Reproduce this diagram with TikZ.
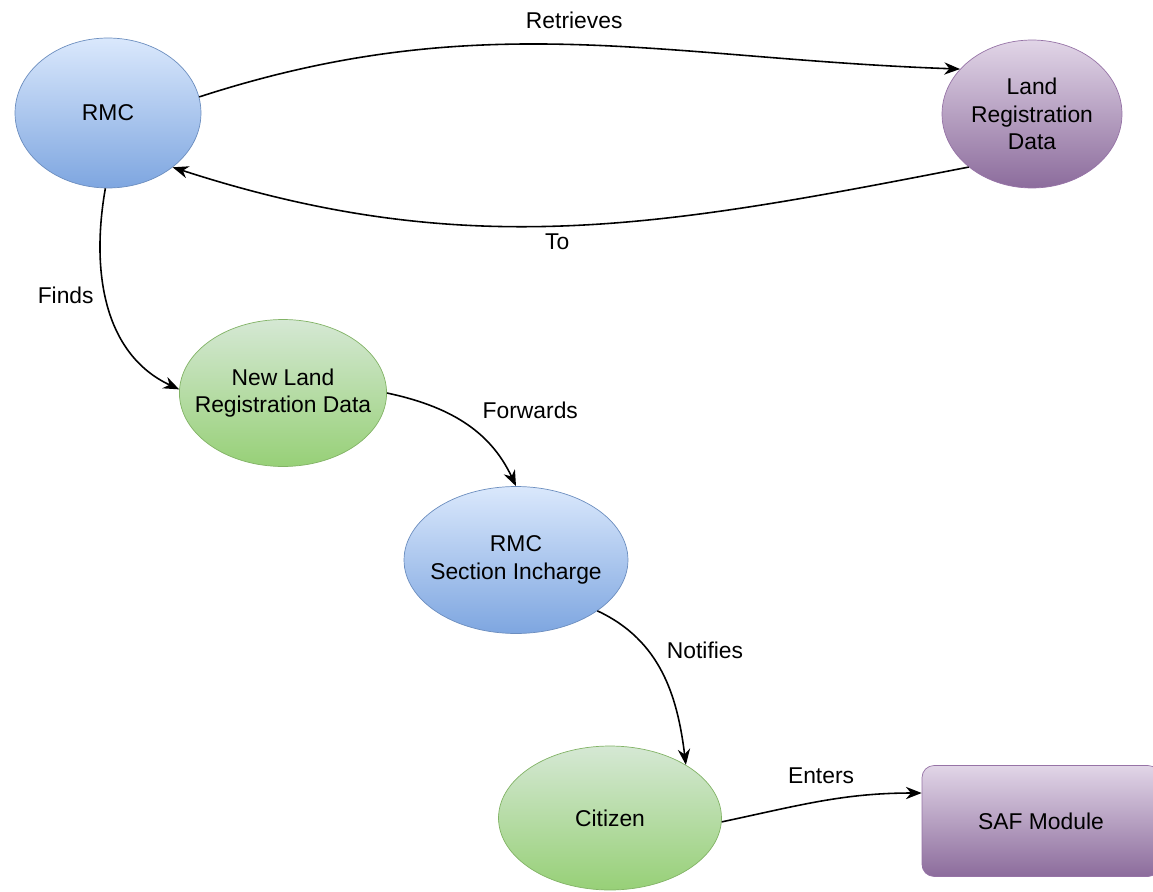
\documentclass[tikz,border=0pt]{standalone}
\usepackage{fontspec}
\setmainfont{Liberation Sans}
\usepackage{xcolor}
\usepackage{tikz}
\usetikzlibrary{shapes,arrows.meta,positioning}

\definecolor{bluetop}{HTML}{DAE8FC}
\definecolor{bluebot}{HTML}{7EA6E0}
\definecolor{blueline}{HTML}{6C8EBF}
\definecolor{greentop}{HTML}{D5E8D4}
\definecolor{greenbot}{HTML}{97D077}
\definecolor{greenline}{HTML}{82B366}
\definecolor{purpletop}{HTML}{E1D5E7}
\definecolor{purplebot}{HTML}{8C6C9C}
\definecolor{purpleline}{HTML}{9673A6}

\begin{document}
\begin{tikzpicture}[x=0.02cm,y=-0.02cm,
		font=\fontsize{13}{15.6}\selectfont,
		blueball/.style={ellipse,draw=blueline,top color=bluetop,bottom color=bluebot,align=center,inner sep=0pt},
		greenball/.style={ellipse,draw=greenline,top color=greentop,bottom color=greenbot,align=center,inner sep=0pt},
		purpleball/.style={ellipse,draw=purpleline,top color=purpletop,bottom color=purplebot,align=center,inner sep=0pt},
		flow/.style={line width=0.9pt,-{Stealth[length=9pt,width=7pt]}}]
		\useasboundingbox (0,0) rectangle (1153,892);

		\node[blueball,minimum width=3.72cm,minimum height=3cm] (RMC) at (108,113) {RMC};
		\node[purpleball,minimum width=3.6cm,minimum height=2.96cm] (LRD) at (1032,114) {Land\\Registration\\Data};
		\node[greenball,inner xsep=-0.3cm,minimum width=4.12cm,minimum height=2.94cm] (NLRD) at (283,393) {New Land\\Registration Data};
		\node[blueball,inner xsep=-0.14cm,minimum width=4.48cm,minimum height=2.94cm] (SI) at (516,560) {RMC\\Section Incharge};
		\node[greenball,minimum width=4.46cm,minimum height=2.88cm] (Cit) at (610,818) {Citizen};
		\node[rectangle,rounded corners=0.24cm,draw=purpleline,top color=purpletop,bottom color=purplebot,minimum width=4.76cm,minimum height=2.22cm] (SAF) at (1041,821) {SAF Module};

		\draw[flow] (RMC.10) to[out=18,in=178] node[above=5pt] {Retrieves} (LRD.148);
		\draw[flow] (LRD.220) to[out=191,in=-18] node[below=1pt,xshift=-0.2cm] {To} (RMC.-40);
		\draw[flow] (RMC.-92) to[out=-100,in=155] node[pos=0.45,left=3pt] {Finds} (NLRD.178);
		\draw[flow] (NLRD.0) to[out=-12,in=115] node[pos=0.4,anchor=west,xshift=0.5cm,yshift=0.1cm] {Forwards} (SI.90);
		\draw[flow] (SI.-32) to[out=-25,in=97] node[pos=0.35,anchor=west,xshift=0.24cm] {Notifies} (Cit.35);
		\draw[flow] (Cit.-2) to[out=12,in=180] node[above=6pt] {Enters} ([yshift=0.56cm]SAF.west);
	\end{tikzpicture}
\end{document}
